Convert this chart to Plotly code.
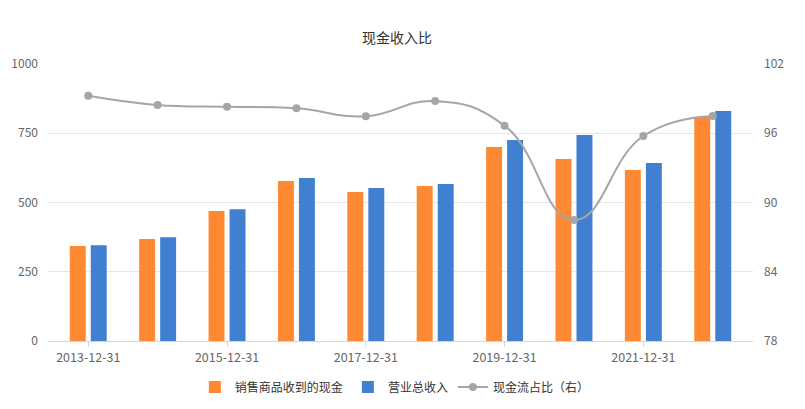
import plotly.graph_objects as go

categories = ["2013-12-31", "2014-12-31", "2015-12-31", "2016-12-31", "2017-12-31",
              "2018-12-31", "2019-12-31", "2020-12-31", "2021-12-31", "2022-12-31"]
cash_from_sales = [343, 368, 469, 578, 538, 560, 700, 657, 617, 809]
total_revenue = [346, 375, 476, 588, 552, 567, 726, 744, 643, 830]
cash_ratio = [99.25, 98.45, 98.3, 98.16, 97.47, 98.79, 96.66, 88.48, 95.76, 97.5]

FONT = "Noto Sans CJK SC"

fig = go.Figure()
fig.add_trace(go.Bar(x=categories, y=cash_from_sales, name="销售商品收到的现金",
                     marker=dict(color="#FF8833", line=dict(width=0))))
fig.add_trace(go.Bar(x=categories, y=total_revenue, name="营业总收入",
                     marker=dict(color="#4180D0", line=dict(width=0))))
fig.add_trace(go.Scatter(x=categories, y=cash_ratio, name="现金流占比（右）", yaxis="y2",
                         mode="lines+markers", line=dict(color="#A6A6A6", width=2, shape="spline", smoothing=1.3),
                         marker=dict(color="#A6A6A6", size=8)))

fig.update_layout(
    width=789, height=393,
    margin=dict(l=40, r=44, t=56, b=60, autoexpand=False),
    paper_bgcolor="white", plot_bgcolor="white",
    font=dict(family=FONT, size=12, color="#666666"),
    title=dict(text="现金收入比", x=0.493, xanchor="center", y=1 - 30 / 393, yref="container", yanchor="middle",
               font=dict(family=FONT, size=14, color="#333333"), automargin=False),
    barmode="group", bargap=0.395, bargroupgap=0.24,
    showlegend=True,
    legend=dict(orientation="h", x=0.492, xanchor="center", y=-0.166, yanchor="middle",
                font=dict(family=FONT, size=12, color="#333333"),
                traceorder="normal"),
    xaxis=dict(type="category", tickmode="array", automargin=False,
               tickvals=categories[::2], ticktext=categories[::2],
               ticks="outside", ticklen=5, tickcolor="#CCD6EB",
               showline=True, linecolor="#CCD6EB", linewidth=1,
               showgrid=False, tickfont=dict(size=12.5, color="#666666")),
    yaxis=dict(range=[0, 1000], tickvals=[0, 250, 500, 750, 1000], automargin=False,
               showgrid=True, gridcolor="#E6E6E6", zeroline=False,
               showline=False, tickfont=dict(size=12, color="#666666"), ticklabelstandoff=9),
    yaxis2=dict(range=[78, 102], tickvals=[78, 84, 90, 96, 102], overlaying="y", side="right",
                showgrid=False, zeroline=False, showline=False, automargin=False,
                tickfont=dict(size=12, color="#666666"), ticklabelstandoff=10),
)

fig.write_html("out.html")
